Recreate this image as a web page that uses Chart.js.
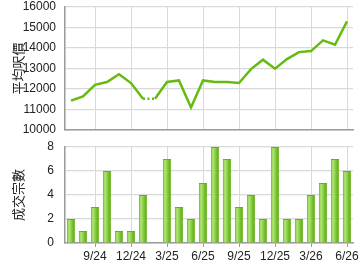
<!DOCTYPE html>
<html><head><meta charset="utf-8">
<script src="https://cdn.jsdelivr.net/npm/chart.js@4/dist/chart.umd.min.js"></script>
<style>
html,body{margin:0;padding:0;background:#fff;}
#w1{position:absolute;left:0;top:0;width:360px;height:140px;}
#w2{position:absolute;left:0;top:140px;width:360px;height:130px;}
</style></head><body>
<div id="w1"><canvas id="c1"></canvas></div>
<div id="w2"><canvas id="c2"></canvas></div>
<script>
const months = ["7/24","8/24","9/24","10/24","11/24","12/24","1/25","2/25","3/25","4/25","5/25","6/25","7/25","8/25","9/25","10/25","11/25","12/25","1/26","2/26","3/26","4/26","5/26","6/26"];
const tickLabels = ["9/24","12/24","3/25","6/25","9/25","12/25","3/26","6/26"];
const avgPrice = [11430,11640,12200,12340,12720,12290,11520,11520,12340,12420,11100,12420,12340,12340,12290,12970,13430,12990,13460,13800,13850,14370,14160,15300];
const deals = [2,1,3,6,1,1,4,0,7,3,2,5,8,7,3,4,2,8,2,2,4,5,7,6];
const priceTitle = "平均呎價";
const dealTitle = "成交宗數";

const FONT = "'Liberation Sans', Arial, sans-serif";
const gridCol = "#d9d9d9";
const axisCol = "#9a9a9a";
const isTick = i => tickLabels.includes(months[i]);

Chart.defaults.animation = false;
Chart.defaults.responsive = true;
Chart.defaults.maintainAspectRatio = false;
Chart.defaults.font.family = FONT;
Chart.defaults.color = "#222";

const xCommon = (showLabels, h) => ({
  type: "category",
  offset: true,
  grid: {
    offset: false,
    color: c => (c.index !== undefined && isTick(c.index)) ? gridCol : "rgba(0,0,0,0)",
    tickColor: c => (c.index !== undefined && isTick(c.index)) ? axisCol : "rgba(0,0,0,0)",
    tickLength: showLabels ? 4 : 0,
    drawTicks: showLabels
  },
  border: { color: axisCol, width: 1.5 },
  ticks: {
    display: showLabels,
    autoSkip: false, maxRotation: 0, minRotation: 0, padding: 2,
    font: { size: 12, family: FONT }, color: "#222",
    callback: function(v, i){ return isTick(i) ? months[i] : ""; }
  },
  afterFit: s => { s.height = h; s.paddingLeft = 0; s.paddingRight = 0; }
});

const yTicks = (pad) => ({ padding: pad, font: { size: 12, family: FONT }, color: "#222", callback: v => String(v) });
const yFit = s => { s.width = 65; s.paddingTop = 0; s.paddingBottom = 0; };

new Chart(document.getElementById("c1"), {
  type: "line",
  data: { labels: months, datasets: [{
    data: avgPrice,
    borderColor: "#66bb11",
    borderWidth: 2.5,
    pointRadius: 0,
    tension: 0,
    segment: { borderDash: c => (c.p0DataIndex === 6) ? [2, 2.5] : undefined }
  }]},
  options: {
    layout: { padding: { top: 7, right: 7, left: 0, bottom: 0 } },
    plugins: { legend: { display: false }, tooltip: { enabled: false } },
    scales: {
      x: xCommon(false, 10),
      y: {
        min: 10000, max: 16000,
        ticks: Object.assign({ stepSize: 1000 }, yTicks(9)),
        grid: { color: gridCol, drawTicks: false, lineWidth: 1.2 },
        border: { color: axisCol, width: 1.5 },
        title: { display: true, text: priceTitle, font: { size: 13, family: "'Noto Sans CJK TC', sans-serif" }, color: "#222", padding: { top: 10, bottom: 0 } },
        afterFit: yFit
      }
    }
  }
});

new Chart(document.getElementById("c2"), {
  type: "bar",
  data: { labels: months, datasets: [{
    data: deals,
    borderColor: "#63b31a",
    borderWidth: 1,
    barPercentage: 0.7,
    categoryPercentage: 1.0,
    backgroundColor: c => {
      const ch = c.chart;
      const xs = ch.scales.x;
      if (!xs || c.dataIndex === undefined) return "#8fd14f";
      const x = xs.getPixelForValue(c.dataIndex);
      if (!isFinite(x)) return "#8fd14f";
      const g = ch.ctx.createLinearGradient(x - 4.5, 0, x + 4.5, 0);
      g.addColorStop(0, "#78c22c");
      g.addColorStop(0.3, "#b2e47e");
      g.addColorStop(0.5, "#8fd14a");
      g.addColorStop(0.75, "#6cb820");
      g.addColorStop(1, "#5aa612");
      return g;
    }
  }]},
  options: {
    layout: { padding: { top: 7, right: 7, left: 0, bottom: 0 } },
    plugins: { legend: { display: false }, tooltip: { enabled: false } },
    scales: {
      x: xCommon(true, 27),
      y: {
        min: 0, max: 8,
        ticks: Object.assign({ stepSize: 1 }, yTicks(11)),
        grid: { color: gridCol, drawTicks: false, lineWidth: 1.2 },
        border: { color: axisCol, width: 1.5 },
        title: { display: true, text: dealTitle, font: { size: 13, family: "'Noto Sans CJK TC', sans-serif" }, color: "#222", padding: { top: 10, bottom: 0 } },
        afterFit: yFit
      }
    }
  }
});
</script>
</body></html>
